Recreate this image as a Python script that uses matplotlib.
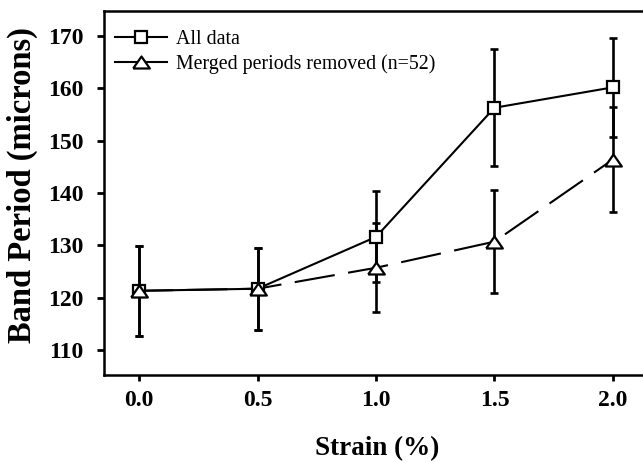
import matplotlib
matplotlib.use("Agg")
import matplotlib.pyplot as plt
from matplotlib.lines import Line2D

strain = [0.0, 0.5, 1.0, 1.5, 2.0]
all_data = [121.3, 121.7, 131.6, 156.3, 160.2]
all_err = [8.6, 7.8, 8.7, 11.2, 9.5]
merged = [121.3, 121.7, 125.7, 130.7, 146.4]
merged_err = [8.6, 7.8, 8.5, 9.9, 10.1]

xticks = [0.0, 0.5, 1.0, 1.5, 2.0]
xticklabels = ["0.0", "0.5", "1.0", "1.5", "2.0"]
yticks = [110, 120, 130, 140, 150, 160, 170]

plt.rcParams['font.family'] = ['Liberation Serif', 'DejaVu Serif']

W, H = 643, 462
fig = plt.figure(figsize=(W / 100, H / 100), dpi=100)
ax = fig.add_axes([104 / W, 87 / H, 1 - 104 / W, (375 - 11) / H])

tri = [(-1.0, -0.72), (1.0, -0.72), (0.0, 0.72), (-1.0, -0.72)]

ax.errorbar(strain, all_data, yerr=all_err, fmt='none', ecolor='black',
            elinewidth=1.9, capsize=3, capthick=1.9, zorder=2)
ax.errorbar(strain, merged, yerr=merged_err, fmt='none', ecolor='black',
            elinewidth=1.9, capsize=3, capthick=1.9, zorder=2)

ax.plot(strain, merged, color='black', lw=1.5, linestyle=(3, (19.5, 6.5)), zorder=3)
ax.plot(strain, all_data, color='black', lw=1.5, linestyle='-', zorder=4)
ax.plot(strain, all_data, linestyle='none', marker='s', markersize=8.5,
        markerfacecolor='white', markeredgecolor='black', markeredgewidth=1.6, zorder=5)
ax.plot(strain, merged, linestyle='none', marker=tri, markersize=12,
        markerfacecolor='white', markeredgecolor='black', markeredgewidth=1.6, zorder=6)

ax.set_xlim(-0.148, 2.127)
ax.set_ylim(105.2, 174.8)
ax.set_xticks(xticks)
ax.set_xticklabels(xticklabels)
ax.set_yticks(yticks)

for lab in ax.get_xticklabels() + ax.get_yticklabels():
    lab.set_fontweight('bold')
    lab.set_fontsize(17)

ax.tick_params(axis='x', direction='out', width=2, length=4.3, pad=6.5)
ax.tick_params(axis='y', direction='out', width=2, length=5, pad=9.5)
ax.spines['right'].set_visible(False)
for s in ['left', 'top', 'bottom']:
    ax.spines[s].set_linewidth(1.8)

ax.set_xlabel("Strain (%)", fontsize=19.5, fontweight='bold')
ax.set_ylabel("Band Period (microns)", fontsize=23.5, fontweight='bold')
ax.xaxis.set_label_coords((376.7 - 104) / 539, (462 - 436 - 87) / 364)
ax.yaxis.set_label_coords((38 - 104) / 539, (462 - 185 - 87) / 364)

h1 = Line2D([], [], color='black', lw=1.5, marker='s', markersize=8.5,
            markerfacecolor='white', markeredgewidth=1.6)
h2 = Line2D([], [], color='black', lw=1.5, marker=tri, markersize=12,
            markerfacecolor='white', markeredgewidth=1.6)
ax.legend([h1, h2], ["All data", "Merged periods removed (n=52)"],
          loc='upper left', bbox_to_anchor=((115 - 104) / 539, (462 - 30 - 87) / 364),
          frameon=False, fontsize=14.3, handlelength=2.6,
          handletextpad=0.45, borderaxespad=0, borderpad=0, labelspacing=0.28)

fig.savefig("out.png", dpi=100)
